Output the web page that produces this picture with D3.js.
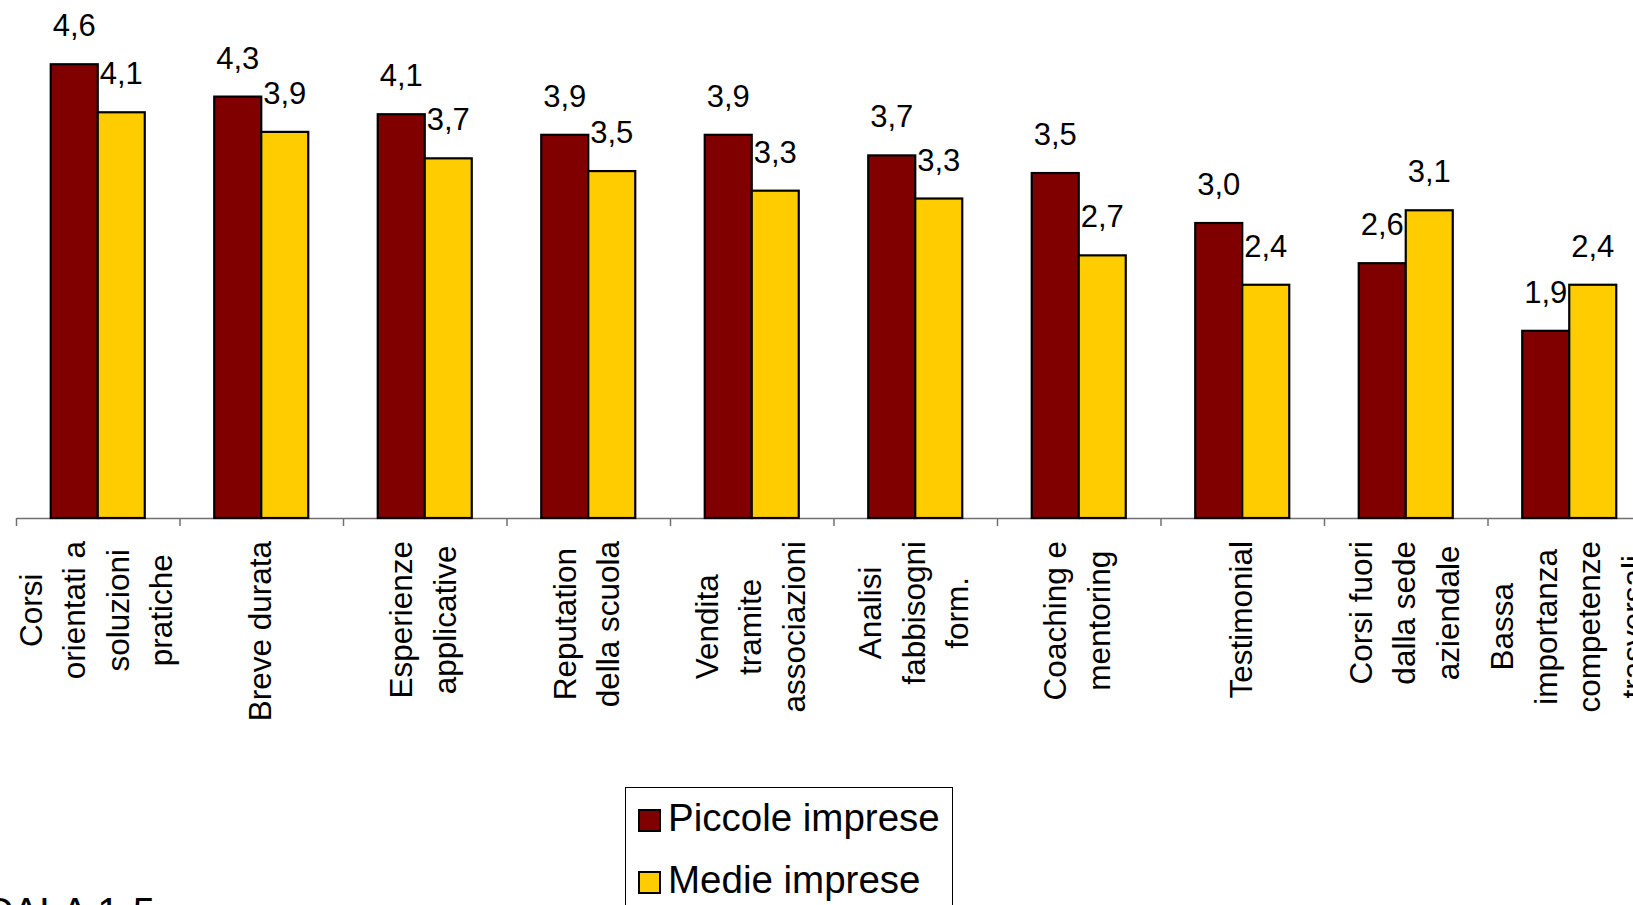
<!DOCTYPE html>
<html>
<head>
<meta charset="utf-8">
<script src="https://cdn.jsdelivr.net/npm/d3@7"></script>
<style>
html, body { margin: 0; padding: 0; background: #fff; overflow: hidden; }
svg { display: block; }
text { font-family: "Liberation Sans", Arial, sans-serif; fill: #000; }
</style>
</head>
<body>
<svg id="chart" width="1633" height="905"></svg>
<script>
// ---- data ----
const categories = [
  "Corsi orientati a soluzioni pratiche",
  "Breve durata",
  "Esperienze applicative",
  "Reputation della scuola",
  "Vendita tramite associazioni",
  "Analisi fabbisogni form.",
  "Coaching e mentoring",
  "Testimonial",
  "Corsi fuori dalla sede aziendale",
  "Bassa importanza competenze trasversali"
];
const categoryLines = [
  ["Corsi", "orientati a", "soluzioni", "pratiche"],
  ["Breve durata"],
  ["Esperienze", "applicative"],
  ["Reputation", "della scuola"],
  ["Vendita", "tramite", "associazioni"],
  ["Analisi", "fabbisogni", "form."],
  ["Coaching e", "mentoring"],
  ["Testimonial"],
  ["Corsi fuori", "dalla sede", "aziendale"],
  ["Bassa", "importanza", "competenze", "trasversali"]
];
const seriesNames = ["Piccole imprese", "Medie imprese"];
const piccole = [4.63, 4.30, 4.12, 3.91, 3.91, 3.70, 3.52, 3.01, 2.60, 1.91];
const medie   = [4.14, 3.94, 3.67, 3.54, 3.34, 3.26, 2.68, 2.38, 3.14, 2.38];
const seriesColors = ["#800000", "#FFCC00"];
const scaleNote = "SCALA 1-5";

// ---- layout ----
const svg = d3.select("#chart");
const axisY = 518, plotLeft = 16, step = 163.5;
const plotRight = plotLeft + step * categories.length;

const x0 = d3.scaleBand()
  .domain(categories)
  .range([plotLeft, plotRight])
  .paddingInner(0.425)
  .paddingOuter(0.2125);
const x1 = d3.scaleBand()
  .domain(seriesNames)
  .range([0, x0.bandwidth()]);
const y = d3.scaleLinear().domain([0, 5]).range([axisY, 28]);
const xb = d3.scaleLinear().domain([0, categories.length]).range([plotLeft, plotRight]);

const fmt = d3.formatLocale({decimal: ",", thousands: ".", grouping: [3], currency: ["€", ""]}).format(".1f");

// axis with ticks at category boundaries
const axis = svg.append("g")
  .attr("transform", `translate(0,${axisY})`)
  .call(d3.axisBottom(xb).tickValues(d3.range(categories.length + 1)).tickFormat("").tickSizeInner(8).tickSizeOuter(0));
axis.select(".domain").attr("stroke", "#707070").attr("stroke-width", 1.5);
axis.selectAll(".tick line").attr("stroke", "#707070").attr("stroke-width", 1.5);

// bars
const data = categories.map((c, i) => ({cat: c, vals: [piccole[i], medie[i]]}));
const groups = svg.append("g").selectAll("g")
  .data(data).join("g")
  .attr("transform", d => `translate(${x0(d.cat)},0)`);

groups.selectAll("rect")
  .data(d => d.vals.map((v, j) => ({v, s: seriesNames[j], j})))
  .join("rect")
  .attr("x", d => x1(d.s))
  .attr("y", d => y(d.v))
  .attr("width", x1.bandwidth())
  .attr("height", d => axisY - y(d.v))
  .attr("fill", d => seriesColors[d.j])
  .attr("stroke", "#000")
  .attr("stroke-width", 2.2);

groups.selectAll("text.val")
  .data(d => d.vals.map((v, j) => ({v, s: seriesNames[j], j})))
  .join("text")
  .attr("class", "val")
  .attr("x", d => x1(d.s) + x1.bandwidth() / 2)
  .attr("y", d => y(d.v) - 28)
  .attr("text-anchor", "middle")
  .style("font-size", "31px")
  .text(d => fmt(d.v));

// category labels (rotated, multi-line, centered in block, block top aligned)
const labelTop = 541, lineGap = 43.5;
categories.forEach((c, i) => {
  const lines = categoryLines[i];
  const cx = x0(c) + x0.bandwidth() / 2;
  const g = svg.append("g");
  const texts = lines.map((ln, k) => g.append("text")
    .attr("text-anchor", "middle")
    .style("font-size", "31.5px")
    .text(ln));
  const maxLen = d3.max(texts, t => t.node().getComputedTextLength());
  const cy = labelTop + maxLen / 2;
  g.attr("transform", `translate(${cx - 2},${cy}) rotate(-90)`);
  texts.forEach((t, k) => {
    const off = (k - (lines.length - 1) / 2) * lineGap;
    t.attr("x", 0).attr("y", off).attr("dy", "0.36em");
  });
});

// legend
const legend = svg.append("g");
legend.append("rect")
  .attr("x", 625.5).attr("y", 787.5)
  .attr("width", 327).attr("height", 200)
  .attr("fill", "#fff").attr("stroke", "#000").attr("stroke-width", 1);
seriesNames.forEach((s, j) => {
  const yy = 810 + j * 62;
  legend.append("rect")
    .attr("x", 639).attr("y", yy)
    .attr("width", 21).attr("height", 21)
    .attr("fill", seriesColors[j]).attr("stroke", "#000").attr("stroke-width", 2);
  legend.append("text")
    .attr("x", 668).attr("y", yy + 21)
    .style("font-size", "38.5px")
    .text(s);
});

// scale note (partly outside the frame)
svg.append("text")
  .attr("x", 155).attr("y", 926)
  .attr("text-anchor", "end")
  .style("font-size", "40px")
  .text(scaleNote);
</script>
</body>
</html>
